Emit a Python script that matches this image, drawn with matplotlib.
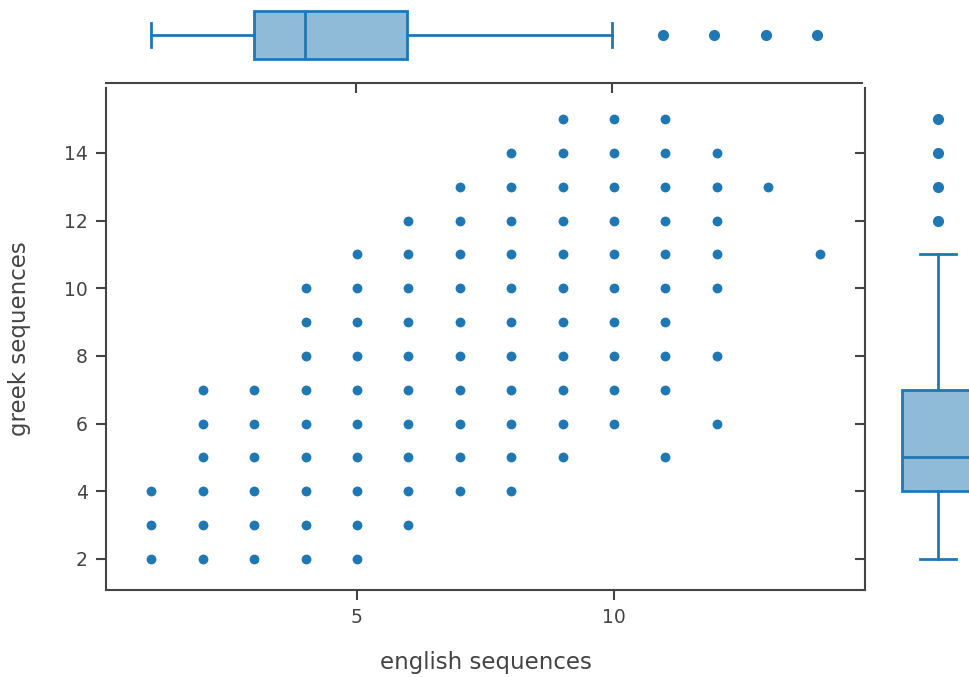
import matplotlib.pyplot as plt
import numpy as np

# english / greek sequence pairs (one entry per plotted point)
english = [1, 1, 1,
           2, 2, 2, 2, 2, 2,
           3, 3, 3, 3, 3, 3,
           4, 4, 4, 4, 4, 4, 4, 4, 4,
           5, 5, 5, 5, 5, 5, 5, 5, 5, 5,
           6, 6, 6, 6, 6, 6, 6, 6, 6, 6,
           7, 7, 7, 7, 7, 7, 7, 7, 7, 7,
           8, 8, 8, 8, 8, 8, 8, 8, 8, 8, 8,
           9, 9, 9, 9, 9, 9, 9, 9, 9, 9, 9,
           10, 10, 10, 10, 10, 10, 10, 10, 10, 10,
           11, 11, 11, 11, 11, 11, 11, 11, 11, 11,
           12, 12, 12, 12, 12, 12, 12,
           13,
           14]
greek = [2, 3, 4,
         2, 3, 4, 5, 6, 7,
         2, 3, 4, 5, 6, 7,
         2, 3, 4, 5, 6, 7, 8, 9, 10,
         2, 3, 4, 5, 6, 7, 8, 9, 10, 11,
         3, 4, 5, 6, 7, 8, 9, 10, 11, 12,
         4, 5, 6, 7, 8, 9, 10, 11, 12, 13,
         4, 5, 6, 7, 8, 9, 10, 11, 12, 13, 14,
         5, 6, 7, 8, 9, 10, 11, 12, 13, 14, 15,
         6, 7, 8, 9, 10, 11, 12, 13, 14, 15,
         5, 7, 8, 9, 10, 11, 12, 13, 14, 15,
         6, 8, 10, 11, 12, 13, 14,
         13,
         11]

# marginal box summaries
english_box = dict(whislo=1, q1=3, med=4, q3=6, whishi=10, fliers=[11, 12, 13, 14])
greek_box = dict(whislo=2, q1=4, med=5, q3=7, whishi=11, fliers=[12, 13, 14, 15])

blue = '#1f77b4'
fill = '#8fbbd9'
axcol = '#444444'
W, H = 969, 677

plt.rcParams['font.family'] = 'DejaVu Sans'
fig = plt.figure(figsize=(W / 100, H / 100), dpi=100)

def px_axes(x0, y0, x1, y1):
    return fig.add_axes([x0 / W, 1 - y1 / H, (x1 - x0) / W, (y1 - y0) / H])

# main scatter
ax = px_axes(106, 88, 865, 590)
ax.scatter(english, greek, s=50, color=blue, linewidths=0, zorder=3)
ax.set_xlim(0.12, 14.88)
ax.set_ylim(1.08, 15.92)
ax.set_xticks([5, 10])
ax.set_yticks([2, 4, 6, 8, 10, 12, 14])
for side in ['top', 'right']:
    ax.spines[side].set_visible(False)
for side in ['left', 'bottom']:
    ax.spines[side].set_color(axcol)
    ax.spines[side].set_linewidth(1.5)
ax.tick_params(direction='out', length=7, width=1.5, color=axcol,
               labelcolor=axcol, labelsize=13.5, pad=6)
ax.set_xlabel('english sequences', fontsize=16.5, color=axcol, va='center')
ax.set_ylabel('greek sequences', fontsize=16.5, color=axcol, va='center')
ax.xaxis.set_label_coords(0.5, (590 - 662) / 502)
ax.yaxis.set_label_coords((20 - 106) / 759, 0.5)

boxprops = dict(facecolor=fill, edgecolor=blue, linewidth=2)
lineprops = dict(color=blue, linewidth=2)
flierprops = dict(marker='o', markersize=7, markerfacecolor=blue,
                  markeredgecolor=blue, linestyle='none')

# top marginal box (english)
axt = px_axes(106, 0, 862, 83)
english_box['label'] = ''
axt.bxp([english_box], positions=[48], widths=[48], vert=False,
        patch_artist=True, boxprops=boxprops, whiskerprops=lineprops,
        capprops=lineprops, medianprops=lineprops, flierprops=flierprops,
        capwidths=[24])
axt.set_xlim(0.12, 14.88)
axt.set_ylim(0, 83)
axt.set_xticks([5, 10])
axt.set_yticks([])
axt.tick_params(axis='x', direction='out', length=7, width=1.5, color=axcol,
                labelbottom=False)
for side in ['top', 'right', 'left']:
    axt.spines[side].set_visible(False)
axt.spines['bottom'].set_color(axcol)
axt.spines['bottom'].set_linewidth(1.5)
axt.patch.set_alpha(0)

# right marginal box (greek)
axr = px_axes(865, 88, 1015, 590)
greek_box['label'] = ''
axr.bxp([greek_box], positions=[73], widths=[72],
        patch_artist=True, boxprops=boxprops, whiskerprops=lineprops,
        capprops=lineprops, medianprops=lineprops, flierprops=flierprops,
        capwidths=[36])
axr.set_ylim(1.08, 15.92)
axr.set_xlim(0, 150)
axr.set_yticks([2, 4, 6, 8, 10, 12, 14])
axr.set_xticks([])
axr.tick_params(axis='y', direction='out', length=7, width=1.5, color=axcol,
                labelleft=False)
for side in ['top', 'right', 'bottom']:
    axr.spines[side].set_visible(False)
axr.spines['left'].set_color(axcol)
axr.spines['left'].set_linewidth(1.5)
axr.patch.set_alpha(0)

fig.savefig('out.png', dpi=100)
